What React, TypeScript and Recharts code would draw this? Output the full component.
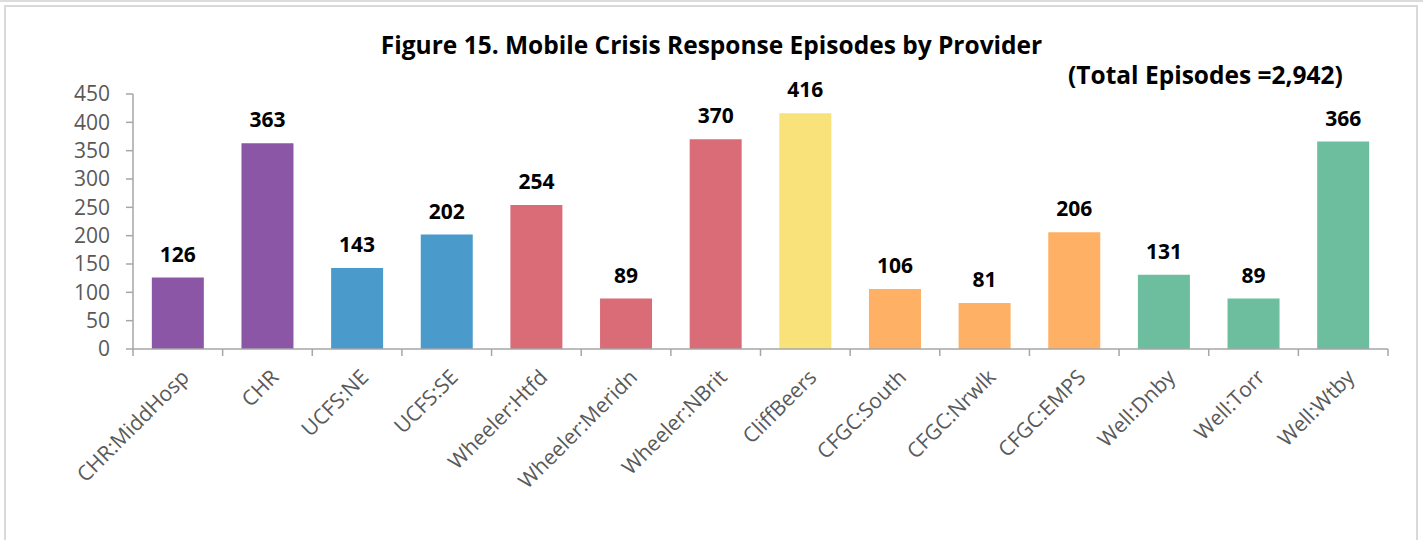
import { BarChart, Bar, XAxis, YAxis, Cell, LabelList } from 'recharts';

const providers = [
  'CHR:MiddHosp',
  'CHR',
  'UCFS:NE',
  'UCFS:SE',
  'Wheeler:Htfd',
  'Wheeler:Meridn',
  'Wheeler:NBrit',
  'CliffBeers',
  'CFGC:South',
  'CFGC:Nrwlk',
  'CFGC:EMPS',
  'Well:Dnby',
  'Well:Torr',
  'Well:Wtby',
];
const episodes = [126, 363, 143, 202, 254, 89, 370, 416, 106, 81, 206, 131, 89, 366];
const barColors = [
  '#8b56a6', '#8b56a6',
  '#4a9bcc', '#4a9bcc',
  '#d96c76', '#d96c76', '#d96c76',
  '#f9e27a',
  '#feb064', '#feb064', '#feb064',
  '#6cbe9e', '#6cbe9e', '#6cbe9e',
];
const yTicks = [0, 50, 100, 150, 200, 250, 300, 350, 400, 450];

const data = providers.map((name, i) => ({ name, value: episodes[i] }));

const W = 1423;
const H = 540;
const PLOT_LEFT = 133;
const PLOT_RIGHT = 1388;
const PLOT_TOP = 94;
const PLOT_BOTTOM = 349;
const BAND = (PLOT_RIGHT - PLOT_LEFT) / providers.length;
const AXIS_GRAY = '#a6a6a6';
const TEXT_GRAY = '#595959';
const FONT = "'Open Sans', sans-serif";

function CategoryTick({ x, y, payload, index }: any) {
  const axisY = PLOT_BOTTOM;
  const left = x - BAND / 2;
  const lx = x + 2;
  const ly = axisY + 19;
  return (
    <g>
      <line x1={left} y1={axisY} x2={left} y2={axisY + 7} stroke={AXIS_GRAY} strokeWidth={1.5} />
      {index === providers.length - 1 && (
        <line x1={x + BAND / 2} y1={axisY} x2={x + BAND / 2} y2={axisY + 7} stroke={AXIS_GRAY} strokeWidth={1.5} />
      )}
      <text
        x={lx}
        y={ly}
        transform={`rotate(-45, ${lx}, ${ly})`}
        textAnchor="end"
        dy="0.71em"
        fill={TEXT_GRAY}
        fontSize={21}
        fontFamily={FONT}
      >
        {payload.value}
      </text>
    </g>
  );
}

export default function App() {
  return (
    <div style={{ position: 'absolute', left: 0, top: 0, width: W, height: H, background: '#fff', overflow: 'hidden' }}>
      <div style={{ position: 'absolute', left: 0, top: 0, width: W, height: 2, background: '#dcdcdc' }} />
      <div
        style={{
          position: 'absolute',
          left: 4,
          top: 5,
          width: 1414,
          height: 560,
          border: '2px solid #d9d9d9',
          boxSizing: 'border-box',
        }}
      />
      <div
        style={{
          position: 'absolute',
          left: 0,
          top: 28,
          width: 1423,
          textAlign: 'center',
          fontFamily: FONT,
          fontWeight: 700,
          fontSize: 24.5,
          lineHeight: '34px',
          color: '#000',
        }}
      >
        Figure 15. Mobile Crisis Response Episodes by Provider
      </div>
      <div
        style={{
          position: 'absolute',
          left: 1068,
          top: 58,
          fontFamily: FONT,
          fontWeight: 700,
          fontSize: 24.5,
          lineHeight: '34px',
          color: '#000',
          whiteSpace: 'nowrap',
        }}
      >
        (Total Episodes =2,942)
      </div>
      <div style={{ position: 'absolute', left: 0, top: 0 }}>
        <BarChart
          width={W}
          height={H}
          data={data}
          margin={{ top: PLOT_TOP, right: W - PLOT_RIGHT, bottom: 0, left: 0 }}
          barCategoryGap="21%"
        >
          <XAxis
            dataKey="name"
            interval={0}
            height={H - PLOT_BOTTOM}
            tickLine={false}
            axisLine={{ stroke: AXIS_GRAY, strokeWidth: 1.5 }}
            tick={<CategoryTick />}
          />
          <YAxis
            width={PLOT_LEFT}
            domain={[0, 450]}
            ticks={yTicks}
            interval={0}
            tickSize={7}
            tickMargin={16}
            tickLine={{ stroke: AXIS_GRAY, strokeWidth: 1.5 }}
            axisLine={{ stroke: AXIS_GRAY, strokeWidth: 1.5 }}
            tick={{ fill: TEXT_GRAY, fontSize: 21, fontFamily: FONT }}
          />
          <Bar dataKey="value" isAnimationActive={false}>
            {data.map((d, i) => (
              <Cell key={d.name} fill={barColors[i]} />
            ))}
            <LabelList
              dataKey="value"
              position="top"
              offset={16}
              fill="#000"
              fontSize={21}
              fontWeight={700}
              fontFamily={FONT}
            />
          </Bar>
        </BarChart>
      </div>
    </div>
  );
}
